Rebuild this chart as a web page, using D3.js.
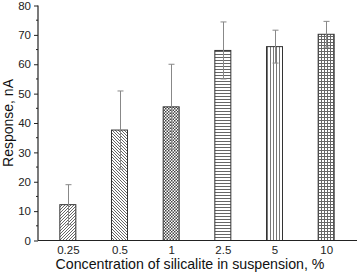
<!DOCTYPE html>
<html lang="en">
<head>
    <meta charset="UTF-8">
    <title>Response vs silicalite concentration</title>
    <script src="https://d3js.org/d3.v7.min.js"></script>
    <style>
        body { margin: 0; background: #fff; font-family: "Liberation Sans", Arial, sans-serif; }
        .tick text { font-family: "Liberation Sans", Arial, sans-serif; }
    </style>
</head>
<body>
    <svg id="chart" width="358" height="274"></svg>
    <script>
        // Data
        const categories = ["0.25", "0.5", "1", "2.5", "5", "10"];
        const responses = [12.2, 37.6, 45.5, 64.7, 66.0, 70.2];
        const errors = [6.8, 13.3, 14.5, 9.7, 5.6, 4.4];
        const patterns = ["diagUp", "diagDown", "checker", "horiz", "vert", "grid"];
        const yTicks = [0, 10, 20, 30, 40, 50, 60, 70, 80];

        const svg = d3.select("#chart");
        const x0 = 38, x1 = 357, yBottom = 240.5, yTop = 5.5;

        const x = d3.scalePoint().domain(categories).range([42, 352]).padding(0.5);
        const y = d3.scaleLinear().domain([0, 80]).range([yBottom, yTop]);
        const barW = 16;

        // hatch patterns
        const defs = svg.append("defs");
        function pat(id, size, draw) {
            const p = defs.append("pattern").attr("id", id)
                .attr("patternUnits", "userSpaceOnUse")
                .attr("width", size).attr("height", size);
            p.append("rect").attr("width", size).attr("height", size).attr("fill", "#fff");
            draw(p, size);
        }
        const ink = "#555";
        pat("diagUp", 3, (p, s) => {
            p.append("path").attr("d", `M0,${s} L${s},0 M-1,1 L1,-1 M${s - 1},${s + 1} L${s + 1},${s - 1}`)
                .attr("stroke", ink).attr("stroke-width", 0.9);
        });
        pat("diagDown", 3, (p, s) => {
            p.append("path").attr("d", `M0,0 L${s},${s} M-1,${s - 1} L1,${s + 1} M${s - 1},-1 L${s + 1},1`)
                .attr("stroke", ink).attr("stroke-width", 0.9);
        });
        pat("checker", 3, (p, s) => {
            p.append("rect").attr("width", 1.5).attr("height", 1.5).attr("fill", "#444");
            p.append("rect").attr("x", 1.5).attr("y", 1.5).attr("width", 1.5).attr("height", 1.5).attr("fill", "#444");
        });
        pat("horiz", 3, (p, s) => {
            p.append("rect").attr("y", 0).attr("width", s).attr("height", 1).attr("fill", "#666");
        });
        pat("vert", 3, (p, s) => {
            p.append("rect").attr("x", 0).attr("width", 1).attr("height", s).attr("fill", "#777");
        });
        pat("grid", 3, (p, s) => {
            p.append("rect").attr("y", 0).attr("width", s).attr("height", 1).attr("fill", "#666");
            p.append("rect").attr("x", 0).attr("width", 1).attr("height", s).attr("fill", "#666");
        });

        const rows = categories.map((c, i) => ({ c, v: responses[i], e: errors[i], p: patterns[i] }));

        // bars
        svg.append("g").selectAll("rect")
            .data(rows)
            .enter()
            .append("rect")
            .attr("x", d => x(d.c) - barW / 2)
            .attr("y", d => y(d.v))
            .attr("width", barW)
            .attr("height", d => y(0) - y(d.v))
            .attr("fill", d => `url(#${d.p})`)
            .attr("stroke", "#333")
            .attr("stroke-width", 1);

        // error bars
        const eb = svg.append("g").attr("stroke", "#888").attr("stroke-width", 1);
        rows.forEach(d => {
            const cx = Math.round(x(d.c)) + 0.5;
            eb.append("line").attr("x1", cx).attr("x2", cx)
                .attr("y1", y(d.v + d.e)).attr("y2", y(d.v - d.e));
            eb.append("line").attr("x1", cx - 3).attr("x2", cx + 3)
                .attr("y1", y(d.v + d.e)).attr("y2", y(d.v + d.e));
            eb.append("line").attr("x1", cx - 3).attr("x2", cx + 3)
                .attr("y1", y(d.v - d.e)).attr("y2", y(d.v - d.e));
        });

        // y axis
        const yAxis = svg.append("g").attr("transform", `translate(${x0},0)`)
            .call(d3.axisLeft(y).tickValues(yTicks).tickSize(4).tickPadding(3));
        yAxis.select(".domain").attr("stroke", "#222").attr("stroke-width", 1.2)
            .attr("d", `M0,${yTop}V${yBottom}`);
        yAxis.selectAll(".tick line").attr("stroke", "#222");
        yAxis.selectAll(".tick text").attr("font-size", 11.5).attr("fill", "#222");
        // minor ticks
        svg.append("g").selectAll("line")
            .data(yTicks.slice(0, -1).map(t => t + 5))
            .enter()
            .append("line")
            .attr("x1", x0 - 2).attr("x2", x0)
            .attr("y1", d => y(d)).attr("y2", d => y(d))
            .attr("stroke", "#222");

        // x axis
        const xAxis = svg.append("g").attr("transform", `translate(0,${yBottom})`)
            .call(d3.axisBottom(x).tickSize(0).tickPadding(5));
        xAxis.select(".domain").attr("stroke", "#222").attr("stroke-width", 1.2)
            .attr("d", `M${x0},0H${x1}`);
        xAxis.selectAll(".tick text").attr("font-size", 11.5).attr("fill", "#222");

        // axis titles
        svg.append("text")
            .attr("x", 190).attr("y", 269)
            .attr("text-anchor", "middle")
            .attr("font-size", 14.2).attr("fill", "#111")
            .text("Concentration of silicalite in suspension, %");
        svg.append("text")
            .attr("transform", "translate(13,123) rotate(-90)")
            .attr("text-anchor", "middle")
            .attr("font-size", 14).attr("fill", "#111")
            .text("Response, nA");
    </script>
</body>
</html>
